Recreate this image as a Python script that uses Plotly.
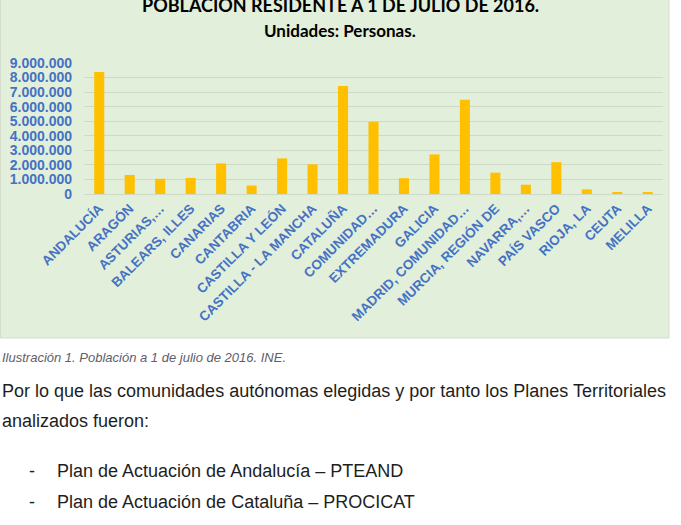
import plotly.graph_objects as go

W, H = 681, 525

categories = ["ANDALUCÍA", "ARAGÓN", "ASTURIAS,…", "BALEARS, ILLES", "CANARIAS", "CANTABRIA",
              "CASTILLA Y LEÓN", "CASTILLA - LA MANCHA", "CATALUÑA", "COMUNIDAD…", "EXTREMADURA",
              "GALICIA", "MADRID, COMUNIDAD…", "MURCIA, REGIÓN DE", "NAVARRA,…", "PAÍS VASCO",
              "RIOJA, LA", "CEUTA", "MELILLA"]
population = [8388107, 1308563, 1042608, 1107220, 2101924, 582206,
              2447519, 2041631, 7422000, 4959968, 1087778,
              2718525, 6466996, 1464847, 640647, 2189534,
              315794, 84519, 86026]
y_ticks = [0, 1000000, 2000000, 3000000, 4000000, 5000000, 6000000, 7000000, 8000000, 9000000]
y_tick_labels = ["0", "1.000.000", "2.000.000", "3.000.000", "4.000.000", "5.000.000",
                 "6.000.000", "7.000.000", "8.000.000", "9.000.000"]

title = "POBLACIÓN RESIDENTE A 1 DE JULIO DE 2016."
subtitle = "Unidades: Personas."
caption = "Ilustración 1. Población a 1 de julio de 2016. INE."
para_line1 = "Por lo que las comunidades autónomas elegidas y por tanto los Planes Territoriales"
para_line2 = "analizados fueron:"
bullets = ["Plan de Actuación de Andalucía – PTEAND", "Plan de Actuación de Cataluña – PROCICAT"]

BLUE = "#4472C4"
TXT = "#1E1E1E"
px = lambda x: x / W
py = lambda y: 1 - y / H

fig = go.Figure(go.Bar(x=categories, y=population, marker_color="#FFC000",
                       marker_line_width=0, width=0.33))

fig.update_layout(
    width=W, height=H, margin=dict(l=0, r=0, t=0, b=0, autoexpand=False),
    paper_bgcolor="white", plot_bgcolor="rgba(0,0,0,0)",
    showlegend=False,
    xaxis=dict(domain=[px(84), px(663)], range=[-0.5, 18.5], tickangle=-45, automargin=False,
               ticklabelstandoff=3,
               tickfont=dict(family="Liberation Sans", size=13.5, color=BLUE, weight="bold"),
               showgrid=False, showline=False, ticks="", zeroline=False),
    yaxis=dict(domain=[py(194), py(63)], range=[0, 9000000], tickvals=y_ticks, automargin=False,
               ticktext=y_tick_labels, ticklabelstandoff=11,
               tickfont=dict(family="Liberation Sans", size=14, color=BLUE, weight="bold"),
               showgrid=True, gridcolor="#CFD9C8", gridwidth=1, zeroline=True,
               zerolinecolor="#CFD9C8", zerolinewidth=1, showline=False, ticks=""),
)

fig.add_shape(type="rect", xref="paper", yref="paper", x0=px(0.5), x1=px(669), y0=py(338), y1=1.01,
              fillcolor="#E2EFDA", line=dict(color="#D3DCCD", width=1), layer="below")

def note(text, x, y, size, family, color, xanchor="left"):
    fig.add_annotation(text=text, xref="paper", yref="paper", x=px(x), y=py(y),
                       xanchor=xanchor, yanchor="middle", showarrow=False,
                       font=dict(family=family, size=size, color=color))

note("<b>" + title + "</b>", 340, 5, 18, "Lato", "black", "center")
note("<b>" + subtitle + "</b>", 340, 31, 17, "Lato", "black", "center")
note("<i>" + caption + "</i>", 0, 357, 13, "Liberation Sans", "#5E5E6A")
note(para_line1, 0, 391, 18, "Liberation Sans", TXT)
note(para_line2, 0, 421, 18, "Liberation Sans", TXT)
for i, b in enumerate(bullets):
    yy = 471 + 31 * i
    note("-", 27, yy, 18, "Liberation Sans", TXT)
    note(b, 55, yy, 18, "Liberation Sans", TXT)

fig.write_html("out.html")
